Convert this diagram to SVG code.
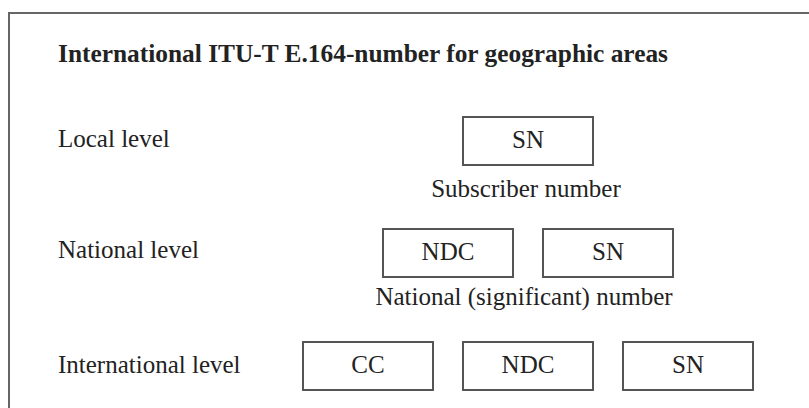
<svg xmlns="http://www.w3.org/2000/svg" width="809" height="408" viewBox="0 0 809 408">
<style>
text{font-family:"Liberation Serif","Times New Roman",serif;fill:#222;font-size:25px}
.title{font-weight:bold}
.c{text-anchor:middle}
.box{fill:#fff;stroke:#555;stroke-width:2}
.frame{fill:#fff;stroke:#666;stroke-width:2}
</style>
<rect class="frame" x="9" y="13" width="900" height="500"/>
<text class="title" x="58" y="62" textLength="610" lengthAdjust="spacingAndGlyphs">International ITU-T E.164-number for geographic areas</text>
<g id="labels">
<text x="58" y="147">Local level</text>
<text x="58" y="258">National level</text>
<text x="58" y="373">International level</text>
</g>
<g id="local-sn"><rect class="box" x="463" y="117" width="130" height="48"/><text class="c" x="528" y="148">SN</text></g>
<text class="c" x="526" y="197">Subscriber number</text>
<g id="nat-ndc"><rect class="box" x="383" y="229" width="130" height="48"/><text class="c" x="448" y="260">NDC</text></g>
<g id="nat-sn"><rect class="box" x="543" y="229" width="130" height="48"/><text class="c" x="608" y="260">SN</text></g>
<text class="c" x="524" y="305">National (significant) number</text>
<g id="int-cc"><rect class="box" x="303" y="342" width="130" height="48"/><text class="c" x="368" y="373">CC</text></g>
<g id="int-ndc"><rect class="box" x="463" y="342" width="130" height="48"/><text class="c" x="528" y="373">NDC</text></g>
<g id="int-sn"><rect class="box" x="623" y="342" width="130" height="48"/><text class="c" x="688" y="373">SN</text></g>
<g id="connectors"/>
</svg>
